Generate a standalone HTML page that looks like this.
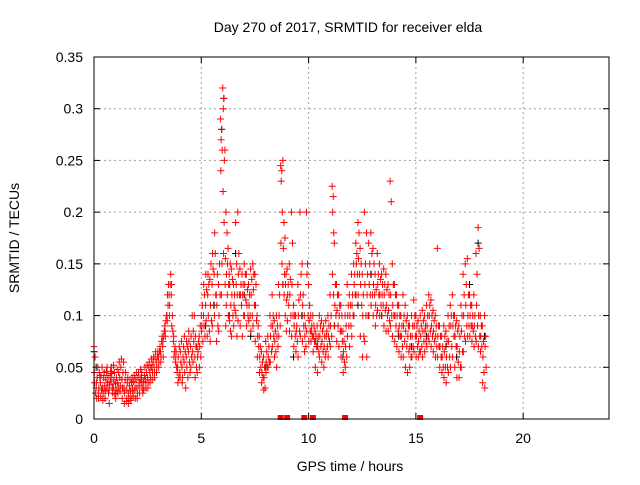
<!DOCTYPE html>
<html><head><meta charset="utf-8"><style>
html,body{margin:0;padding:0;background:#fff;}
svg text{font-family:"Liberation Sans",sans-serif;font-size:14px;fill:#000;}
</style></head><body>
<svg id="chart" width="640" height="480" xmlns="http://www.w3.org/2000/svg">
<rect width="640" height="480" fill="#fff"/>
<text x="348" y="32" text-anchor="middle">Day 270 of 2017, SRMTID for receiver elda</text>
<text x="350" y="471" text-anchor="middle">GPS time / hours</text>
<text transform="translate(19,238) rotate(-90)" text-anchor="middle">SRMTID / TECUs</text>
<g id="grid"></g>
<g id="ticks"></g>
<g id="black"></g>
<g id="red"></g>
<rect x="94" y="57" width="515" height="362" fill="none" stroke="#000" stroke-width="1"/>
</svg>
<script>
const xTicks=[0,5,10,15,20];
const yTicks=[0,0.05,0.1,0.15,0.2,0.25,0.3,0.35];
const yTickLabels=["0","0.05","0.1","0.15","0.2","0.25","0.3","0.35"];
const binStart=0, binStep=0.1;
const redBins=[
[.07,.06,.035,.025,.045],[.03,.04,.02,.05,.035],[.025,.045,.03,.04,.02],[.035,.028,.042,.05,.022],[.03,.04,.025,.045,.018],
[.032,.038,.027,.046,.02],[.03,.042,.035,.025,.05],[.028,.04,.033,.046,.015],[.036,.03,.044,.025,.05],[.03,.045,.038,.024,.052],
[.034,.04,.028,.048,.02],[.035,.045,.03,.055,.025],[.04,.05,.032,.058,.027],[.038,.045,.03,.055,.02],[.03,.038,.025,.045,.015],
[.028,.035,.02,.04,.017],[.025,.032,.02,.038,.015],[.027,.035,.02,.04,.018],[.03,.036,.022,.042,.025],[.028,.038,.02,.045,.03],
[.03,.04,.025,.045,.02],[.032,.04,.025,.048,.035],[.035,.03,.045,.025,.04],[.036,.042,.03,.05,.028],[.038,.045,.03,.052,.035],
[.04,.05,.035,.055,.03],[.045,.05,.04,.058,.035],[.05,.055,.045,.06,.038],[.05,.06,.045,.065,.04],[.055,.06,.05,.065,.045],
[.06,.065,.055,.07,.05],[.065,.075,.06,.08,.055],[.07,.08,.06,.085,.075],[.09,.095,.08,.1,.085],[.1,.11,.12,.13,.095],
[.12,.13,.11,.14,.1],[.12,.1,.09,.085,.13],[.075,.065,.06,.07,.08],[.055,.05,.065,.045,.06],[.05,.04,.06,.07,.035],
[.045,.055,.065,.075,.04],[.05,.06,.04,.07,.035],[.055,.065,.045,.03,.08],[.06,.07,.05,.04,.075],[.065,.055,.075,.045,.085],
[.07,.06,.08,.1,.05],[.065,.075,.085,.1,.055],[.06,.07,.08,.05,.04],[.07,.065,.06,.075,.045],[.08,.09,.07,.06,.05],
[.1,.11,.09,.075,.085],[.1,.12,.09,.08,.13],[.11,.125,.095,.08,.14],[.12,.13,.1,.085,.14],[.135,.15,.11,.095,.075],
[.13,.145,.16,.11,.09],[.14,.16,.18,.12,.1],[.12,.14,.11,.09,.075],[.13,.15,.1,.12,.085],[.29,.28,.27,.26,.24,.15,.12],
[.32,.31,.3,.25,.22,.19,.16],[.26,.2,.155,.14,.13,.11,.09],[.18,.165,.15,.13,.12,.1],[.14,.15,.13,.11,.095,.085],[.145,.135,.12,.1,.08],
[.13,.12,.11,.105,.09],[.19,.15,.13,.12,.1,.08],[.2,.16,.14,.12,.095],[.145,.13,.12,.11,.09],[.14,.13,.12,.1,.08],
[.15,.14,.13,.115,.1],[.14,.125,.11,.1,.09],[.13,.12,.11,.1,.095],[.145,.135,.12,.1,.085],[.15,.14,.125,.11,.09],
[.14,.13,.11,.095,.075],[.1,.09,.08,.07,.06],[.08,.07,.06,.05,.045],[.065,.055,.045,.04,.035],[.06,.05,.04,.03,.028],
[.075,.065,.055,.05,.045],[.08,.07,.06,.055,.05],[.1,.09,.08,.065,.055],[.12,.1,.09,.08,.07],[.095,.085,.075,.065,.06],
[.1,.09,.08,.07,.05],[.13,.12,.1,.09,.08],[.245,.24,.23,.2,.17,.15],[.25,.19,.165,.14,.13,.12],[.175,.14,.13,.115,.1,.085],
[.145,.13,.12,.11,.095],[.15,.135,.12,.1,.085],[.2,.17,.13,.1,.08],[.11,.1,.09,.08,.07],[.1,.09,.085,.075,.065],
[.13,.115,.1,.085,.06],[.2,.14,.12,.1,.08],[.15,.12,.11,.09,.075],[.1,.09,.08,.07,.065],[.2,.15,.14,.1,.085],
[.13,.11,.095,.085,.075],[.1,.09,.085,.08,.075],[.1,.09,.08,.075,.065],[.085,.08,.075,.07,.05],[.09,.08,.075,.065,.045],
[.1,.09,.08,.07,.06],[.095,.085,.075,.065,.055],[.09,.08,.07,.06,.05],[.095,.085,.08,.07,.065],[.1,.09,.08,.075,.06],
[.12,.1,.09,.08,.07],[.225,.215,.2,.18,.14,.12],[.17,.13,.11,.1,.09],[.13,.12,.105,.09,.075],[.12,.11,.1,.085,.07],
[.11,.1,.085,.075,.06],[.085,.075,.065,.055,.045],[.1,.09,.07,.06,.05],[.13,.11,.1,.09,.08],[.12,.11,.1,.09,.07],
[.14,.12,.11,.1,.08],[.15,.14,.13,.12,.1],[.17,.16,.15,.14,.12],[.19,.18,.155,.14,.12],[.165,.15,.13,.11,.08],
[.14,.12,.1,.08,.06],[.2,.15,.13,.1,.075],[.18,.14,.12,.1,.06],[.17,.15,.13,.12,.1],[.18,.16,.14,.12,.11],
[.165,.15,.13,.12,.1],[.14,.125,.11,.1,.09],[.16,.14,.13,.12,.105],[.15,.135,.12,.11,.1],[.14,.13,.12,.11,.1],
[.145,.13,.12,.105,.09],[.14,.125,.11,.1,.085],[.13,.12,.105,.095,.085],[.23,.21,.12,.1,.09],[.15,.13,.11,.1,.08],
[.13,.12,.1,.09,.075],[.12,.11,.1,.085,.07],[.11,.1,.09,.08,.065],[.1,.09,.08,.07,.06],[.12,.1,.09,.075,.06],
[.11,.095,.085,.07,.05],[.1,.09,.08,.065,.045],[.09,.08,.07,.06,.05],[.1,.09,.08,.07,.06],[.115,.1,.09,.08,.065],
[.1,.09,.08,.07,.06],[.095,.085,.075,.065,.06],[.1,.09,.08,.07,.065],[.105,.095,.085,.075,.06],[.1,.09,.085,.075,.065],
[.11,.1,.09,.08,.07],[.12,.11,.1,.085,.075],[.115,.1,.09,.08,.07],[.105,.095,.085,.075,.065],[.1,.09,.08,.07,.06],
[.165,.09,.08,.07,.06],[.09,.08,.07,.06,.05],[.08,.07,.06,.05,.045],[.09,.08,.065,.05,.04],[.085,.075,.06,.05,.035],
[.1,.09,.075,.06,.045],[.11,.1,.09,.07,.05],[.12,.1,.09,.08,.06],[.1,.09,.08,.07,.05],[.095,.085,.07,.055,.04],
[.09,.08,.065,.05,.04],[.11,.1,.085,.065,.05],[.14,.12,.1,.08,.065],[.15,.13,.11,.09,.075],[.155,.12,.1,.09,.08],
[.12,.11,.1,.09,.08],[.11,.1,.09,.085,.075],[.12,.1,.09,.08,.07],[.16,.14,.11,.09,.075],[.185,.165,.1,.08,.07],
[.1,.09,.08,.07,.065],[.09,.075,.06,.045,.035],[.1,.08,.07,.05,.03]
];
const blackTimes=[0.0,0.1,5.2,5.6,5.95,6.05,6.3,6.6,7.0,7.3,8.0,8.8,9.3,9.7,10.4,11.2,11.6,12.3,12.9,13.4,14.2,14.8,15.5,16.4,16.9,17.5,17.9,18.2];
const blackValues=[0.065,0.05,0.09,0.11,0.28,0.31,0.1,0.16,0.12,0.08,0.05,0.13,0.06,0.1,0.07,0.09,0.06,0.11,0.14,0.1,0.08,0.07,0.08,0.07,0.06,0.13,0.17,0.08];
const squareTimes=[8.7,9.0,9.8,10.2,11.7,15.2];
const squareValues=[0,0,0,0,0,0];

const X0=94,X1=609,Y0=419,Y1=57,XMAX=24,YMAX=0.35;
const sx=t=>X0+t/XMAX*(X1-X0);
const sy=v=>Y0-v/YMAX*(Y0-Y1);
const NS="http://www.w3.org/2000/svg";
function mk(tag,attrs,parent){const e=document.createElementNS(NS,tag);for(const k in attrs)e.setAttribute(k,attrs[k]);parent.appendChild(e);return e;}
const grid=document.getElementById('grid'),ticks=document.getElementById('ticks');
yTicks.forEach((v,i)=>{
  const y=sy(v);
  if(v>0&&v<YMAX){const g=mk('line',{x1:X0,x2:X1,y1:y,y2:y,stroke:'#a0a0a0','stroke-dasharray':'2,3'},grid);
  
  }
  mk('line',{x1:X0,x2:X0+6,y1:y,y2:y,stroke:'#000'},ticks);
  mk('line',{x1:X1,x2:X1-6,y1:y,y2:y,stroke:'#000'},ticks);
  const t=mk('text',{x:83,y:y+5,'text-anchor':'end'},ticks);t.textContent=yTickLabels[i];
  
  
});
xTicks.forEach(v=>{
  const x=sx(v);
  if(v>0){const g=mk('line',{x1:x,x2:x,y1:Y0,y2:Y1,stroke:'#a0a0a0','stroke-dasharray':'2,3'},grid);
  
  }
  mk('line',{x1:x,x2:x,y1:Y0,y2:Y0-6,stroke:'#000'},ticks);
  mk('line',{x1:x,x2:x,y1:Y1,y2:Y1+6,stroke:'#000'},ticks);
  const t=mk('text',{x:x,y:443,'text-anchor':'middle'},ticks);t.textContent=String(v);
  
  
});
function plus(x,y){return 'M'+(x-3.5)+' '+y+'h7M'+x+' '+(y-3.5)+'v7';}
let bd='';
blackTimes.forEach((t,i)=>{bd+=plus(sx(t),sy(blackValues[i]));});
const bp=mk('path',{d:bd,stroke:'#000',fill:'none','stroke-width':1},document.getElementById('black'));


const jitter=[0.0,0.05,0.025,0.075,0.012,0.062,0.037];
let rd='';
redBins.forEach((vals,i)=>{const t=binStart+i*binStep;vals.forEach((v,j)=>{rd+=plus(sx(t+jitter[j%jitter.length]),sy(v));});});
const rp=mk('path',{d:rd,stroke:'#ff0000',fill:'none','stroke-width':1},document.getElementById('red'));


squareTimes.forEach((t,i)=>{
  const r=mk('rect',{x:sx(t)-3,y:sy(squareValues[i])-4,width:6,height:5,fill:'#ff0000'},document.getElementById('red'));
  
  
});
</script>
</body></html>
